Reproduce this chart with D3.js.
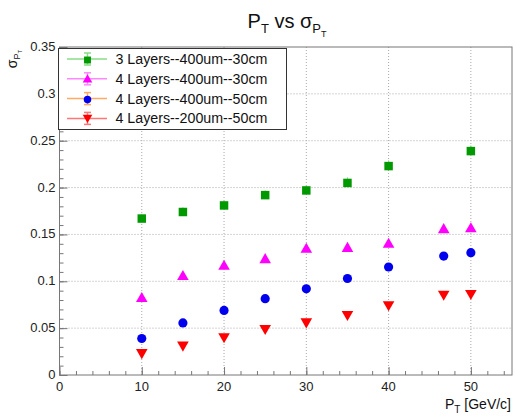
<!DOCTYPE html>
<html><head><meta charset="utf-8">
<script src="https://cdn.jsdelivr.net/npm/d3@7"></script>
<style>body{margin:0;background:#fff}text{font-family:"Liberation Sans",Arial,sans-serif}</style>
</head><body>
<svg id="c" width="516" height="418"></svg>
<script>
const seriesNames = ["3 Layers--400um--30cm","4 Layers--400um--30cm","4 Layers--400um--50cm","4 Layers--200um--50cm"];
const xGreen = [10,15,20,25,30,35,40,50];
const yGreen = [0.168,0.175,0.182,0.193,0.198,0.206,0.224,0.240];
const eGreen = [0.004,0.004,0.004,0.004,0.004,0.005,0.005,0.005];
const xOther = [10,15,20,25,30,35,40,46.7,50];
const yMagenta = [0.0825,0.106,0.117,0.124,0.135,0.136,0.1405,0.156,0.157];
const yBlue = [0.040,0.0566,0.070,0.0825,0.093,0.104,0.1163,0.128,0.1316];
const yRed = [0.023,0.031,0.040,0.0488,0.0558,0.0637,0.074,0.0854,0.0861];
const eSmall = [0.002,0.002,0.002,0.002,0.002,0.002,0.002,0.002,0.002];
const xTicks = [0,10,20,30,40,50];
const yTicks = [0,0.05,0.1,0.15,0.2,0.25,0.3,0.35];

const svg = d3.select("#c");
const L=59.5,R=512,T=47,B=375;
const x = d3.scaleLinear().domain([0,55]).range([L,R]);
const y = d3.scaleLinear().domain([0,0.35]).range([B,T]);

const series = [
 {name:seriesNames[0], xs:xGreen, ys:yGreen, es:eGreen, fill:"#009900", line:"#88dd88", sym:d3.symbolSquare, rot:0},
 {name:seriesNames[1], xs:xOther, ys:yMagenta, es:eSmall, fill:"#ff00ff", line:"#ff88ff", sym:d3.symbolTriangle, rot:0},
 {name:seriesNames[2], xs:xOther, ys:yBlue, es:eSmall, fill:"#0000ee", line:"#ffaa66", sym:d3.symbolCircle, rot:0},
 {name:seriesNames[3], xs:xOther, ys:yRed, es:eSmall, fill:"#ff0000", line:"#ff7777", sym:d3.symbolTriangle, rot:180}
];

// grid
const grid = svg.append("g").attr("stroke","#aaa").attr("stroke-dasharray","1,2").attr("stroke-width",1);
xTicks.filter(d=>d>0).forEach(d=>grid.append("line").attr("x1",x(d)).attr("x2",x(d)).attr("y1",T).attr("y2",B));
yTicks.filter(d=>d>0&&d<0.35).forEach(d=>grid.append("line").attr("x1",L).attr("x2",R).attr("y1",y(d)).attr("y2",y(d)));

// frame
svg.append("rect").attr("x",L).attr("y",T).attr("width",R-L).attr("height",B-T).attr("fill","none").attr("stroke","#777").attr("stroke-width",1);

// axes with inner ticks
const xAxis = svg.append("g").attr("transform",`translate(0,${B})`)
 .call(d3.axisTop(x).tickValues(d3.range(0,55,2)).tickSize(4).tickFormat(""));
xAxis.selectAll("line").attr("stroke","#777"); xAxis.select(".domain").remove();
const xAxisM = svg.append("g").attr("transform",`translate(0,${B})`)
 .call(d3.axisTop(x).tickValues(xTicks).tickSize(8).tickFormat(""));
xAxisM.selectAll("line").attr("stroke","#777"); xAxisM.select(".domain").remove();
svg.append("g").selectAll("text").data(xTicks).join("text").attr("x",d=>x(d)).attr("y",B+16).attr("text-anchor","middle").attr("font-size",13).attr("fill","#222").text(d=>d);

const yAxis = svg.append("g").attr("transform",`translate(${L},0)`)
 .call(d3.axisRight(y).tickValues(d3.range(0,0.351,0.01)).tickSize(4).tickFormat(""));
yAxis.selectAll("line").attr("stroke","#777"); yAxis.select(".domain").remove();
const yAxisM = svg.append("g").attr("transform",`translate(${L},0)`)
 .call(d3.axisRight(y).tickValues(yTicks).tickSize(8).tickFormat(""));
yAxisM.selectAll("line").attr("stroke","#777"); yAxisM.select(".domain").remove();
svg.append("g").selectAll("text").data(yTicks).join("text").attr("x",L-4).attr("y",d=>y(d)+4).attr("text-anchor","end").attr("font-size",13).attr("fill","#222").text(d=>d===0?"0":String(d));

// data
series.forEach(s=>{
  const g = svg.append("g");
  s.xs.forEach((xv,i)=>{
    g.append("line").attr("x1",x(xv)).attr("x2",x(xv)).attr("y1",y(s.ys[i]-s.es[i])).attr("y2",y(s.ys[i]+s.es[i])).attr("stroke",s.line).attr("stroke-width",1);
  });
  g.selectAll("path").data(s.xs).join("path")
   .attr("d",d3.symbol().type(s.sym).size(s.sym===d3.symbolCircle?66:(s.sym===d3.symbolSquare?72:58)))
   .attr("transform",(d,i)=>`translate(${x(d)},${y(s.ys[i])+(s.rot?-1:1)}) rotate(${s.rot})`)
   .attr("fill",s.fill);
});

// legend
const lg = svg.append("g");
lg.append("rect").attr("x",58.5).attr("y",48.5).attr("width",228).attr("height",81).attr("fill","#fff").attr("stroke","#333").attr("stroke-width",1);
series.forEach((s,i)=>{
  const cy = 59 + i*19.8;
  lg.append("line").attr("x1",67).attr("x2",107).attr("y1",cy).attr("y2",cy).attr("stroke",s.line).attr("stroke-width",1.5);
  lg.append("line").attr("x1",87.5).attr("x2",87.5).attr("y1",cy-6).attr("y2",cy+6).attr("stroke",s.line).attr("stroke-width",1.5);
  lg.append("line").attr("x1",84).attr("x2",91).attr("y1",cy-6).attr("y2",cy-6).attr("stroke",s.line).attr("stroke-width",1.5);
  lg.append("line").attr("x1",84).attr("x2",91).attr("y1",cy+6).attr("y2",cy+6).attr("stroke",s.line).attr("stroke-width",1.5);
  lg.append("path").attr("d",d3.symbol().type(s.sym).size(s.sym===d3.symbolCircle?45:(s.sym===d3.symbolSquare?48:40)))
   .attr("transform",`translate(87.5,${cy+(s.rot?-1:1)}) rotate(${s.rot})`).attr("fill",s.fill);
  const tx = lg.append("text").attr("x",115.5).attr("y",cy+5).attr("font-size",14).attr("fill","#111").text(s.name);
  const w = tx.node().getComputedTextLength();
  if (w > 0) tx.attr("font-size", 14*152/w);
});

// title
const t = svg.append("text").attr("x",287).attr("y",28).attr("text-anchor","middle").attr("font-size",20).attr("fill","#111");
t.append("tspan").text("P");
t.append("tspan").attr("font-size",13).attr("dy",5).text("T");
t.append("tspan").attr("dy",-5).text(" vs σ");
t.append("tspan").attr("font-size",13).attr("dy",5).text("P");
t.append("tspan").attr("font-size",9).attr("dy",4).text("T");

// x label
const xl = svg.append("text").attr("x",511).attr("y",409).attr("text-anchor","end").attr("font-size",14).attr("fill","#111");
xl.append("tspan").text("P");
xl.append("tspan").attr("font-size",10).attr("dy",4).text("T");
xl.append("tspan").attr("dy",-4).text(" [GeV/c]");

// y label
const yl = svg.append("text").attr("transform","translate(17,59) rotate(-90)").attr("text-anchor","middle").attr("font-size",14).attr("fill","#111");
yl.append("tspan").text("σ");
yl.append("tspan").attr("font-size",9).attr("dy",3).text("P");
yl.append("tspan").attr("font-size",6).attr("dy",2).text("T");
</script>
</body></html>
